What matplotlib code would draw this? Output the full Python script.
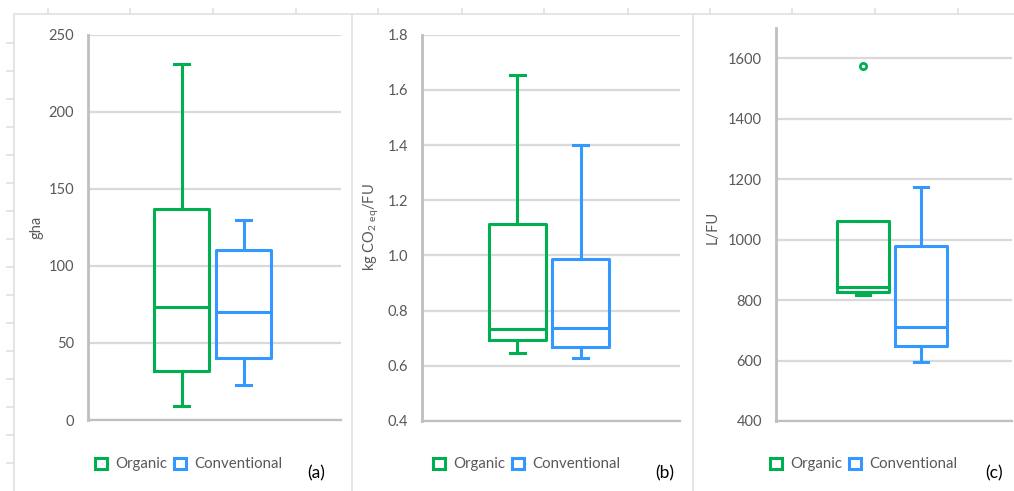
import matplotlib
matplotlib.use("Agg")
import matplotlib.pyplot as plt
from matplotlib.lines import Line2D

plt.rcParams['font.family'] = ['Lato', 'DejaVu Sans']
plt.rcParams['mathtext.default'] = 'regular'

# ---------------- data ----------------
series = ["Organic", "Conventional"]
panel_labels = ["(a)", "(b)", "(c)"]
y_titles = ["gha", r"kg CO$_{2\ \mathregular{eq}}$/FU", "L/FU"]

# [whislo, q1, med, q3, whishi]
a_organic = [9, 32, 73, 137, 231]
a_conventional = [23, 40, 70, 110, 130]
b_organic = [0.647, 0.694, 0.732, 1.114, 1.654]
b_conventional = [0.628, 0.669, 0.736, 0.987, 1.400]
c_organic = [816, 827, 842, 1061, 1061]
c_conventional = [594, 648, 711, 978, 1175]
c_organic_outliers = [1574]
c_conventional_outliers = []

a_ticks = [0, 50, 100, 150, 200, 250]
b_ticks = [0.4, 0.6, 0.8, 1.0, 1.2, 1.4, 1.6, 1.8]
c_ticks = [400, 600, 800, 1000, 1200, 1400, 1600]
a_ticklabels = ["0", "50", "100", "150", "200", "250"]
b_ticklabels = ["0.4", "0.6", "0.8", "1.0", "1.2", "1.4", "1.6", "1.8"]
c_ticklabels = ["400", "600", "800", "1000", "1200", "1400", "1600"]

GREEN = "#00B050"
BLUE = "#3399FF"
GRID = "#D9D9D9"
SPINE = "#BFBFBF"
FRAME = "#E3E3E3"
TXT = "#595959"

W, H = 1014, 491
fig = plt.figure(figsize=(W / 100, H / 100), dpi=100)


def fx(px):
    return px / W


def fy(py):
    return 1 - py / H


def stats(vals, fl):
    return dict(whislo=vals[0], q1=vals[1], med=vals[2], q3=vals[3], whishi=vals[4], fliers=fl)


panels = [
    dict(rect=(88, 34.5, 341, 420), ylim=(0, 250), ticks=a_ticks, tl=a_ticklabels,
         data=[(a_organic, []), (a_conventional, [])], ylab_x=36, leg_x=95, lab_x=316),
    dict(rect=(422, 34.7, 680, 421), ylim=(0.4, 1.8), ticks=b_ticks, tl=b_ticklabels,
         data=[(b_organic, []), (b_conventional, [])], ylab_x=371, leg_x=433, lab_x=665),
    dict(rect=(776, 28, 1012, 421), ylim=(400, 1700), ticks=c_ticks, tl=c_ticklabels,
         data=[(c_organic, c_organic_outliers), (c_conventional, c_conventional_outliers)],
         ylab_x=713, leg_x=770, lab_x=994),
]

positions = [0.37, 0.615]
colors = [GREEN, BLUE]

for i, p in enumerate(panels):
    x0, y0, x1, y1 = p["rect"]
    ax = fig.add_axes([fx(x0), fy(y1), fx(x1) - fx(x0), (y1 - y0) / H])
    for (vals, fl), pos, col in zip(p["data"], positions, colors):
        ax.bxp([stats(vals, fl)], positions=[pos], widths=0.22, showfliers=True,
               capwidths=0.058, manage_ticks=False,
               boxprops=dict(color=col, linewidth=2.2),
               whiskerprops=dict(color=col, linewidth=2.2),
               capprops=dict(color=col, linewidth=2.2),
               medianprops=dict(color=col, linewidth=2.2),
               flierprops=dict(marker='o', markersize=4.5, markerfacecolor='white',
                               markeredgecolor=col, markeredgewidth=2))
    ax.set_xlim(0, 1)
    ax.set_ylim(*p["ylim"])
    ax.set_yticks(p["ticks"])
    ax.set_yticklabels(p["tl"])
    ax.set_xticks([])
    ax.tick_params(axis='y', length=0, labelsize=10.5, labelcolor=TXT, pad=10)
    ax.grid(axis='y', color=GRID, linewidth=1.6)
    ax.set_axisbelow(True)
    for s in ["top", "right"]:
        ax.spines[s].set_visible(False)
    ax.spines["left"].set_color(SPINE)
    ax.spines["left"].set_linewidth(2)
    ax.spines["bottom"].set_color(SPINE)
    ax.spines["bottom"].set_linewidth(1.6)
    # y label
    fig.text(fx(p["ylab_x"]), fy(227), y_titles[i], rotation=90, ha='center', va='center',
             fontsize=10.5, color=TXT)
    # legend
    lx = p["leg_x"]
    for j, (name, col) in enumerate(zip(series, colors)):
        sx = lx + j * 79
        fig.add_artist(plt.Rectangle((fx(sx), fy(469)), fx(12), 11 / H, fill=False,
                                     edgecolor=col, linewidth=2.2))
        fig.text(fx(sx + 20), fy(464), name, ha='left', va='center', fontsize=10.8, color=TXT)
    fig.text(fx(p["lab_x"]), fy(473), panel_labels[i], ha='center', va='center',
             fontsize=12.5, color='black')

# decorative frame (spreadsheet-like borders)
def hline(xa, xb, y):
    fig.add_artist(Line2D([fx(xa), fx(xb)], [fy(y), fy(y)], color=FRAME, linewidth=1.3))


def vline(x, ya, yb):
    fig.add_artist(Line2D([fx(x), fx(x)], [fy(ya), fy(yb)], color=FRAME, linewidth=1.3))

hline(14, 352, 13.5)
hline(352, 692, 13.5)
hline(693, 1014, 14)
vline(14, 13.5, 491)
vline(352, 13.5, 491)
vline(693, 14, 491)
for tx in [48, 130, 213, 296, 378, 462, 544, 628, 710, 792, 875, 958]:
    vline(tx, 9, 13.5)
for k in range(16):
    ty = 43 + 28 * k
    hline(7, 14, ty)

fig.savefig("out.png", dpi=100, facecolor='white')
